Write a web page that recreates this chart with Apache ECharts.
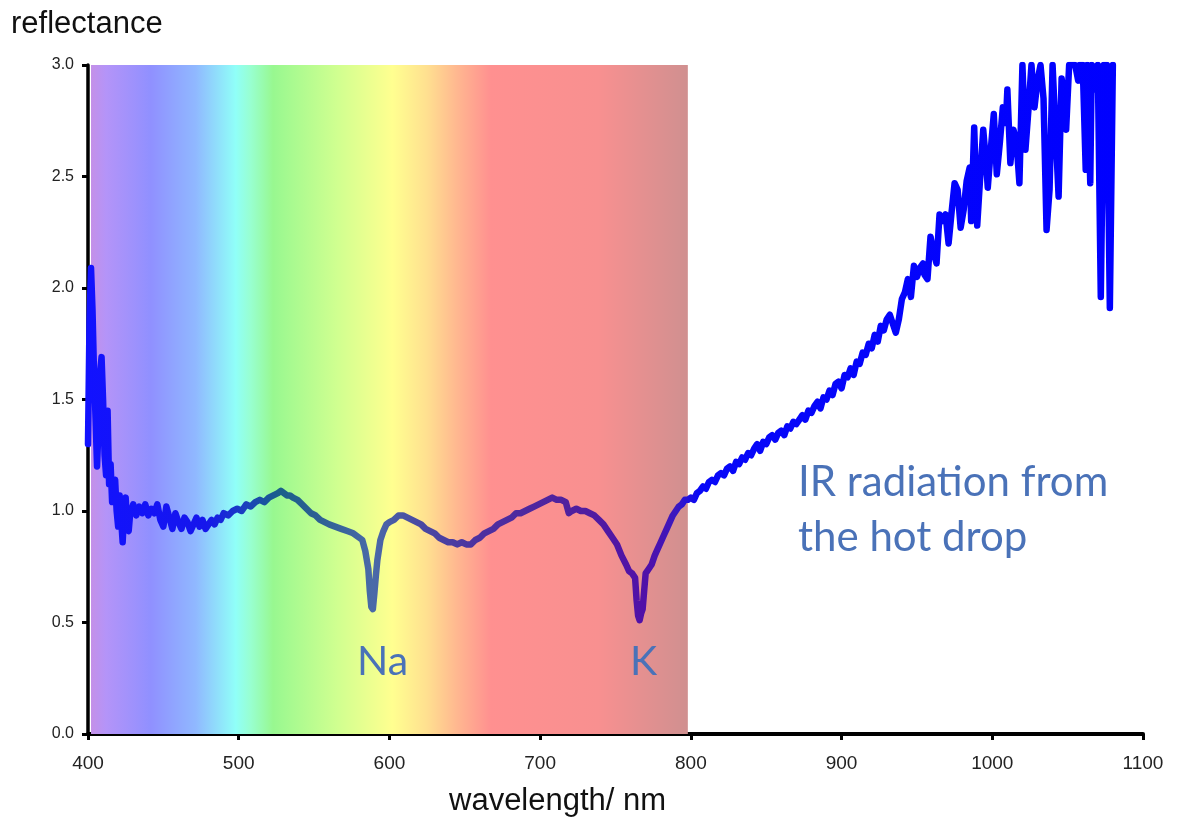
<!DOCTYPE html>
<html>
<head>
<meta charset="utf-8">
<script src="https://cdn.jsdelivr.net/npm/echarts@6/dist/echarts.min.js"></script>
<style>html,body{margin:0;padding:0;background:#fff}#c{width:1177px;height:827px}</style>
</head>
<body>
<div id="c"></div>
<script>
// ---- data ----
const wavelengths = [400,401,402,403,404,405,406,407,408,409,410,411,412,413,414,415,416,417,418,419,420,421,422,423,424,425,426,427,428,430,432,434,436,438,440,442,444,446,448,450,452,454,456,458,460,462,464,466,468,470,472,474,476,478,480,482,484,486,488,490,493,496,499,502,505,508,511,514,517,520,523,526,528,530,532,534,536,539,542,545,548,551,554,557,560,564,568,572,576,580,582,584,586,587,588,589,590,591,592,594,596,598,600,603,606,609,612,615,618,621,624,627,630,633,636,639,642,645,648,651,654,657,660,663,666,669,672,675,678,681,684,687,690,693,696,699,702,705,708,711,714,717,719,721,724,727,730,733,736,739,742,745,748,751,754,757,759,761,763,764,765,766,767,768,769,770,772,774,776,778,780,782,784,786,788,790,792,794,796,798,800,802,804,806,808,810,812,814,816,818,820,822,824,826,828,830,832,834,836,838,840,842,844,846,848,850,852,854,856,858,860,862,864,866,868,870,872,874,876,878,880,882,884,886,888,890,892,894,896,898,900,902,904,906,908,910,912,914,916,918,920,922,924,926,928,930,932,934,936,938,940,942,944,946,948,950,952,954,955,957,959,961,963,965,967,969,971,973,975,977,979,981,983,985,986,988,990,992,994,996,997,999,1001,1003,1005,1007,1009,1010,1012,1014,1016,1018,1020,1022,1024,1026,1028,1030,1032,1034,1036,1038,1040,1042,1044,1046,1048,1049,1051,1053,1055,1057,1058,1060,1062,1063,1065,1066,1068,1070,1072,1074,1076,1078,1080];
const reflectance = [1.30,1.85,2.09,1.90,1.62,1.42,1.20,1.38,1.62,1.69,1.50,1.25,1.16,1.45,1.12,1.21,1.04,1.10,1.14,1.00,0.93,1.07,0.96,0.86,1.00,1.06,0.93,0.91,0.99,1.03,0.98,1.02,0.99,1.03,0.98,1.01,0.99,1.03,0.96,0.93,1.02,0.97,0.92,0.99,0.95,0.92,0.97,0.95,0.91,0.94,0.97,0.93,0.96,0.92,0.94,0.96,0.94,0.97,0.96,0.99,0.98,1.00,1.01,1.00,1.03,1.02,1.04,1.05,1.04,1.06,1.07,1.08,1.09,1.08,1.07,1.07,1.06,1.05,1.03,1.01,0.99,0.98,0.96,0.95,0.94,0.93,0.92,0.91,0.90,0.88,0.87,0.82,0.74,0.64,0.57,0.56,0.63,0.71,0.78,0.87,0.91,0.94,0.95,0.96,0.98,0.98,0.97,0.96,0.95,0.94,0.92,0.91,0.90,0.88,0.87,0.86,0.86,0.85,0.86,0.85,0.85,0.87,0.88,0.90,0.91,0.92,0.94,0.95,0.96,0.97,0.99,0.99,1.00,1.01,1.02,1.03,1.04,1.05,1.06,1.05,1.05,1.04,0.99,1.00,1.01,1.00,1.00,0.99,0.98,0.96,0.94,0.91,0.88,0.85,0.80,0.76,0.73,0.72,0.70,0.60,0.53,0.51,0.54,0.56,0.64,0.72,0.74,0.76,0.80,0.83,0.86,0.89,0.92,0.95,0.98,1.00,1.02,1.03,1.05,1.05,1.06,1.05,1.08,1.09,1.11,1.10,1.13,1.14,1.13,1.16,1.17,1.16,1.19,1.20,1.18,1.22,1.21,1.24,1.23,1.26,1.25,1.28,1.30,1.27,1.31,1.30,1.33,1.34,1.32,1.35,1.36,1.34,1.38,1.37,1.40,1.39,1.41,1.43,1.41,1.45,1.44,1.47,1.49,1.46,1.51,1.50,1.54,1.52,1.57,1.58,1.55,1.61,1.60,1.64,1.61,1.67,1.66,1.71,1.70,1.75,1.73,1.79,1.76,1.83,1.81,1.86,1.88,1.84,1.80,1.86,1.95,1.98,2.04,1.96,2.10,2.05,2.09,2.11,2.06,2.04,2.23,2.16,2.11,2.33,2.30,2.33,2.20,2.34,2.47,2.44,2.27,2.35,2.48,2.54,2.30,2.72,2.28,2.50,2.71,2.55,2.45,2.62,2.78,2.51,2.65,2.81,2.74,2.89,2.56,2.71,2.66,2.47,3.00,2.62,2.80,3.00,2.81,2.93,3.00,2.85,2.26,2.44,3.00,2.70,2.41,2.94,2.85,2.71,3.00,3.00,3.00,2.93,3.00,3.00,2.53,3.00,2.47,3.00,2.89,3.00,1.96,3.00,3.00,1.91,3.00];
const xTicks = [400, 1100, 100];      // min, max, interval
const yTicks = [0, 3, 0.5];
const spectrumRange = [402, 798];
// spectrum colour stops: wavelength / colour
const spectrumStopsNm = [400,410,440,470,497,507,522,565,602,625,645,668,740,800];
const spectrumColors = ['#c490e8','#b494f8','#9090ff','#90b8ff','#90fff8','#98ffd0','#98f890','#d0ff90','#ffff90','#ffe090','#ffb890','#ff9090','#f89090','#d09090'];
// line colour stops: wavelength / colour
const lineStopsNm = [400,480,505,528,555,590,620,660,720,770,790,805,1080];
const lineColors = ['#1212ff','#1616ec','#1a40c0','#1a5f8a','#2e6094','#4a6aa8','#4a4aa2','#4c30a0','#50209e','#5010a8','#3a18c0','#0808f8','#0000ff'];
const annotations = [
  {text:'Na', x:357, y:634},
  {text:'K', x:630, y:634},
  {text:'IR radiation from\nthe hot drop', x:798, y:455}
];

// ---- chart ----
const chart = echarts.init(document.getElementById('c'));
const sStart = spectrumStopsNm[0], sEnd = spectrumStopsNm[spectrumStopsNm.length-1];
const spectrumGrad = new echarts.graphic.LinearGradient(0,0,1,0,
  spectrumStopsNm.map((w,i)=>({offset:(w-sStart)/(sEnd-sStart), color:spectrumColors[i]})));
const lMin = Math.min(...wavelengths), lMax = Math.max(...wavelengths);
const lineGrad = new echarts.graphic.LinearGradient(0,0,1,0,
  lineStopsNm.map((w,i)=>({offset:Math.min(1,Math.max(0,(w-lMin)/(lMax-lMin))), color:lineColors[i]})));

const lab = 'Liberation Sans, Arial, sans-serif';
chart.setOption({
  animation:false,
  backgroundColor:'#fff',
  grid:{left:88, right:34, top:65, bottom:93},
  xAxis:{type:'value', min:xTicks[0], max:xTicks[1], interval:xTicks[2],
    axisLine:{lineStyle:{color:'#000', width:4}},
    axisTick:{show:true, length:6, lineStyle:{color:'#000', width:3}},
    axisLabel:{color:'#222', fontSize:19, fontFamily:lab, margin:20, formatter:v=>String(v)},
    splitLine:{show:false}},
  yAxis:{type:'value', min:yTicks[0], max:yTicks[1], interval:yTicks[2],
    axisLine:{show:true, lineStyle:{color:'#000', width:3.5}},
    axisTick:{show:true, length:6, lineStyle:{color:'#000', width:3}},
    axisLabel:{color:'#222', fontSize:16, fontFamily:lab, margin:14, formatter:v=>v.toFixed(1)},
    splitLine:{show:false}},
  graphic:[
    {type:'text', left:11, top:9, style:{text:'reflectance', fill:'#111', font:'31px '+lab}},
    {type:'text', left:449, top:786, style:{text:'wavelength/ nm', fill:'#111', font:'31px '+lab}}
  ].concat(annotations.map(a=>({type:'text', left:a.x, top:a.y, z:10,
    style:{text:a.text, fill:'#4a72b8', font:(a.text.length>3?'42px':'41px')+' Lato, "Open Sans", sans-serif', lineHeight:55}}))),
  series:[
    {type:'line', data:[], z:1, silent:true,
      markArea:{silent:true, itemStyle:{color:spectrumGrad, opacity:1},
        data:[[{xAxis:spectrumRange[0], yAxis:yTicks[0]},{xAxis:spectrumRange[1], yAxis:yTicks[1]}]]}},
    {type:'line', z:5, showSymbol:false, clip:true,
      data:wavelengths.map((w,i)=>[w, reflectance[i]]),
      lineStyle:{width:6.5, color:lineGrad, join:'round', cap:'round'}}
  ]
});
</script>
</body>
</html>
